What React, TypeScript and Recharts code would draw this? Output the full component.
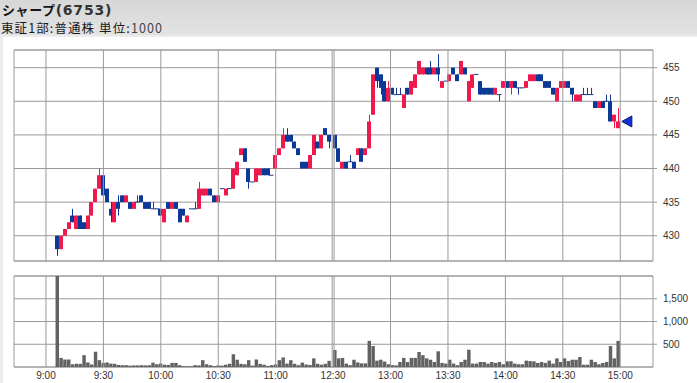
import React from 'react';
import {
  ComposedChart,
  Bar,
  XAxis,
  YAxis,
  CartesianGrid,
  ReferenceLine,
  ReferenceArea,
  ReferenceDot,
} from 'recharts';

// 2-minute bars, [open, high, low, close]
const amBars: number[][] = [
  [430, 430, 427, 428], [428, 430, 428, 430], [430, 431, 430, 431], [431, 432, 431, 432],
  [433, 434, 432, 432], [431, 433, 431, 433], [433, 433, 431, 431], [432, 432, 431, 431],
  [431, 433, 431, 433], [433, 435, 433, 435], [435, 437, 435, 437], [437, 440, 437, 439],
  [439, 439, 436, 436], [437, 437, 435, 435], [434, 435, 432, 433], [432, 435, 432, 435],
  [435, 436, 433, 434], [436, 436, 435, 435], [435, 436, 435, 436], [435, 435, 434, 434],
  [434, 435, 434, 435], [435, 436, 435, 435], [436, 436, 435, 435], [435, 435, 434, 434],
  [435, 435, 434, 434], [434, 435, 434, 434], [434, 434, 434, 434], [434, 434, 433, 433],
  [432, 434, 432, 434], [435, 435, 434, 434], [434, 435, 434, 435], [435, 435, 434, 434],
  [434, 434, 432, 432], [434, 434, 433, 433], [432, 433, 432, 433], [434, 434, 434, 434],
  [434, 435, 434, 434], [434, 438, 434, 437], [436, 437, 436, 437], [436, 437, 436, 437],
  [437, 437, 436, 436], [436, 436, 435, 435], [435, 436, 435, 436], [437, 437, 437, 437],
  [436, 437, 436, 437], [437, 437, 437, 437], [437, 440, 437, 440], [439, 441, 439, 441],
  [442, 443, 442, 443], [443, 443, 441, 441], [440, 440, 437, 438], [438, 438, 438, 438],
  [438, 440, 438, 440], [439, 440, 439, 440], [440, 440, 439, 439], [440, 440, 439, 439],
  [439, 439, 439, 439], [440, 442, 440, 442], [442, 443, 442, 443], [443, 446, 443, 445],
  [445, 446, 444, 444], [445, 445, 444, 444], [444, 444, 443, 443], [443, 443, 442, 442],
  [441, 441, 440, 440], [441, 441, 440, 440], [440, 442, 440, 442], [442, 445, 442, 445],
  [444, 444, 443, 443], [443, 445, 443, 445], [446, 446, 445, 445], [445, 445, 443, 444],
];

const pmBars: number[][] = [
  [445, 445, 443, 443], [443, 443, 441, 441], [440, 441, 440, 441], [441, 441, 440, 440],
  [441, 442, 441, 441], [441, 441, 440, 440], [442, 443, 442, 443], [443, 443, 441, 441],
  [442, 443, 442, 443], [443, 448, 443, 447], [448, 454, 448, 454], [455, 455, 452, 453],
  [454, 454, 451, 452], [453, 453, 450, 450], [450, 453, 450, 452], [452, 452, 451, 451],
  [451, 452, 451, 451], [451, 452, 451, 451], [449, 451, 449, 451], [452, 452, 451, 451],
  [451, 453, 451, 453], [452, 454, 452, 454], [454, 456, 454, 456], [454, 455, 454, 455],
  [455, 455, 454, 454], [455, 456, 454, 454], [454, 455, 454, 455], [455, 457, 453, 454],
  [452, 453, 452, 453], [453, 453, 453, 453], [453, 454, 453, 454], [455, 455, 454, 454],
  [454, 454, 453, 453], [454, 456, 454, 456], [455, 455, 454, 454], [450, 453, 450, 453],
  [452, 454, 452, 454], [454, 454, 454, 454], [453, 453, 451, 451], [452, 452, 451, 451],
  [452, 452, 451, 451], [452, 452, 451, 451], [451, 452, 451, 452], [451, 451, 450, 451],
  [452, 453, 452, 453], [453, 453, 452, 452], [452, 453, 451, 453], [453, 453, 452, 452],
  [452, 452, 451, 452], [452, 452, 452, 452], [452, 453, 452, 453], [453, 454, 453, 454],
  [453, 454, 453, 454], [454, 454, 453, 453], [454, 454, 453, 453], [453, 453, 452, 452],
  [453, 453, 452, 452], [452, 452, 451, 451], [450, 452, 450, 452], [452, 453, 452, 453],
  [452, 453, 452, 453], [453, 453, 452, 452], [452, 452, 450, 451], [450, 451, 450, 451],
  [450, 451, 450, 451], [451, 452, 451, 451], [451, 452, 451, 451], [451, 452, 451, 451],
  [450, 450, 449, 449], [449, 450, 449, 450], [450, 450, 449, 449], [450, 451, 450, 450],
  [450, 451, 447, 447], [447, 448, 446, 448], [446, 449, 446, 447],
];

const amVolume = [
  2400, 200, 165, 165, 60, 70, 70, 260, 100, 55, 335, 150, 90, 100, 75, 70, 45, 40,
  40, 30, 35, 35, 40, 35, 40, 95, 60, 75, 50, 45, 90, 90, 40, 20, 15, 15, 40, 35,
  150, 60, 40, 20, 35, 30, 50, 70, 280, 160, 70, 60, 150, 30, 165, 70, 50, 25, 40, 55,
  150, 210, 75, 150, 70, 40, 95, 55, 45, 190, 70, 50, 70, 135,
];

const pmVolume = [
  375, 190, 200, 75, 40, 160, 100, 80, 80, 575, 460, 140, 160, 120, 60, 40, 35, 110,
  200, 110, 200, 200, 330, 260, 190, 160, 110, 345, 90, 75, 160, 75, 40, 110, 160, 380,
  75, 75, 110, 110, 75, 110, 90, 110, 60, 125, 125, 75, 60, 60, 140, 130, 125, 90,
  110, 90, 140, 75, 190, 110, 190, 130, 160, 160, 220, 50, 50, 160, 110, 60, 90, 110,
  460, 190, 575,
];

const priceTicks = [430, 435, 440, 445, 450, 455];
const volumeTicks = [500, 1000, 1500];
// trading minutes after 9:00, lunch break removed
const timeTicks = [0, 30, 60, 90, 120, 150, 180, 210, 240, 270, 300];
const timeLabels = ['9:00', '9:30', '10:00', '10:30', '11:00', '12:30', '13:00', '13:30', '14:00', '14:30', '15:00'];
const gridMinutes = [0, 30, 60, 90, 120, 149.5, 150.5, 180, 210, 240, 270, 300];

const BAR_STEP = 2;
const AM_FIRST = 6;
const PM_FIRST = 151;
const X_DOMAIN: [number, number] = [-16.7, 317.1];
const PRICE_DOMAIN: [number, number] = [426.24, 457.63];
const VOLUME_DOMAIN: [number, number] = [0, 2000];

const RED = '#ee1a4d';
const BLUE = '#0c3997';
const NAVY = '#1b3a8a';
const GRID = '#9a9a9a';

const toRow = (b: number[], t: number, vol: number) => ({
  t,
  open: b[0],
  high: b[1],
  low: b[2],
  close: b[3],
  vol,
});

const data = [
  ...amBars.map((b, i) => toRow(b, AM_FIRST + i * BAR_STEP, amVolume[i])),
  ...pmBars.map((b, i) => toRow(b, PM_FIRST + i * BAR_STEP, pmVolume[i])),
];
const last = data[data.length - 1];

const tickStyle = { fontSize: 10, fill: '#333', fontFamily: '"Liberation Sans", Arial, sans-serif' };

const Candle = (props: any) => {
  const { x, y, width, height, payload } = props;
  if (!payload || x == null) return null;
  const { open, high, low, close } = payload;
  const cx = Math.round(x + width / 2) + 0.5;
  const top = Math.min(y, y + height);
  const h = Math.abs(height);
  const yOf = (p: number) => (high === low ? top : top + ((high - p) / (high - low)) * h);
  const color = close > open ? RED : close < open ? BLUE : NAVY;
  const bTop = yOf(Math.max(open, close));
  const bBot = yOf(Math.min(open, close));
  return (
    <g>
      {high !== low && <line x1={cx} x2={cx} y1={top} y2={top + h} stroke={color} strokeWidth={1} />}
      {open === close ? (
        <line x1={cx - 2.5} x2={cx + 2} y1={bTop} y2={bTop} stroke={color} strokeWidth={1} />
      ) : (
        <rect x={cx - 2.5} y={bTop} width={4} height={Math.max(bBot - bTop, 1)} fill={color} />
      )}
    </g>
  );
};

const LastArrow = (props: any) => {
  const { cx, cy } = props;
  if (cx == null) return null;
  const tip = cx + 3.5;
  return (
    <path
      d={`M${tip},${cy} L${tip + 10},${cy - 5.5} L${tip + 10},${cy + 5.5} Z`}
      fill="#1430d8"
      stroke="#0a1a70"
      strokeWidth={1}
    />
  );
};

const App: React.FC = () => {
  return (
    <div
      style={{
        position: 'absolute',
        left: 0,
        top: 0,
        width: 697,
        height: 383,
        background: '#fff',
        overflow: 'hidden',
      }}
    >
      {/* Header */}
      <div
        style={{
          position: 'absolute',
          left: 0,
          top: 0,
          width: 697,
          height: 35,
          background: 'linear-gradient(to bottom, #d7d7d7, #e3e3e3)',
          borderBottom: '2px solid #ececec',
        }}
      >
        <div
          style={{
            position: 'absolute',
            left: 2,
            top: 0,
            height: 19,
            fontSize: 13,
            lineHeight: '19px',
            fontWeight: 'bold',
            letterSpacing: 0.6,
            color: '#151515',
            fontFamily: '"Noto Sans CJK JP", sans-serif',
            whiteSpace: 'nowrap',
          }}
        >
          シャープ
          <span
            style={{
              fontFamily: '"DejaVu Sans", sans-serif',
              fontSize: 14,
              lineHeight: '19px',
              color: '#333',
              letterSpacing: 0.8,
            }}
          >
            (6753)
          </span>
        </div>
        <div
          style={{
            position: 'absolute',
            left: 1,
            top: 19,
            height: 18,
            fontSize: 12.5,
            lineHeight: '18px',
            color: '#1a1a1a',
            letterSpacing: 1.1,
            fontFamily: '"Noto Sans CJK JP", sans-serif',
            whiteSpace: 'nowrap',
          }}
        >
          東証1部:普通株 単位:<span style={{ color: '#444' }}>1000</span>
        </div>
      </div>
      <div style={{ position: 'absolute', left: 0, top: 37, width: 3, height: 346, background: '#ececec' }} />

      {/* Price panel */}
      <div style={{ position: 'absolute', left: 0, top: 40 }}>
        <ComposedChart width={697} height={230} data={data} margin={{ top: 10, right: 4, bottom: 9, left: 14 }}>
          <CartesianGrid vertical={false} stroke={GRID} />
          {gridMinutes.map((m) => (
            <ReferenceLine key={m} x={m} stroke={GRID} />
          ))}
          <XAxis dataKey="t" type="number" domain={X_DOMAIN} allowDataOverflow hide />
          <YAxis
            orientation="right"
            type="number"
            domain={PRICE_DOMAIN}
            allowDataOverflow
            ticks={priceTicks}
            interval={0}
            width={40}
            axisLine={false}
            tickLine={{ stroke: GRID }}
            tickSize={4}
            tickMargin={6}
            tick={tickStyle}
          />
          <ReferenceArea
            x1={X_DOMAIN[0]}
            x2={X_DOMAIN[1]}
            y1={PRICE_DOMAIN[0]}
            y2={PRICE_DOMAIN[1]}
            fill="none"
            stroke={GRID}
            strokeWidth={1}
          />
          <Bar
            dataKey={(d: any) => [d.low, d.high]}
            barSize={3}
            shape={<Candle />}
            isAnimationActive={false}
          />
          <ReferenceDot x={last.t} y={last.close} shape={<LastArrow />} ifOverflow="visible" />
        </ComposedChart>
      </div>

      {/* Volume panel */}
      <div style={{ position: 'absolute', left: 0, top: 270 }}>
        <ComposedChart width={697} height={113} data={data} margin={{ top: 6, right: 4, bottom: 0, left: 14 }}>
          <CartesianGrid vertical={false} stroke={GRID} />
          {gridMinutes.map((m) => (
            <ReferenceLine key={m} x={m} stroke={GRID} />
          ))}
          <XAxis
            dataKey="t"
            type="number"
            domain={X_DOMAIN}
            allowDataOverflow
            ticks={timeTicks}
            interval={0}
            height={16}
            axisLine={false}
            tickLine={false}
            tickSize={4}
            tickMargin={1}
            tick={tickStyle}
            tickFormatter={(v: number) => timeLabels[timeTicks.indexOf(v)] ?? ''}
          />
          <YAxis
            orientation="right"
            type="number"
            domain={VOLUME_DOMAIN}
            allowDataOverflow
            ticks={volumeTicks}
            interval={0}
            width={40}
            axisLine={false}
            tickLine={{ stroke: GRID }}
            tickSize={4}
            tickMargin={6}
            tick={tickStyle}
            tickFormatter={(v: number) => v.toLocaleString('en-US')}
          />
          <ReferenceArea
            x1={X_DOMAIN[0]}
            x2={X_DOMAIN[1]}
            y1={VOLUME_DOMAIN[0]}
            y2={VOLUME_DOMAIN[1]}
            fill="none"
            stroke={GRID}
            strokeWidth={1}
          />
          <Bar dataKey="vol" barSize={4} fill="#626262" isAnimationActive={false} />
        </ComposedChart>
      </div>
    </div>
  );
};

export default App;
